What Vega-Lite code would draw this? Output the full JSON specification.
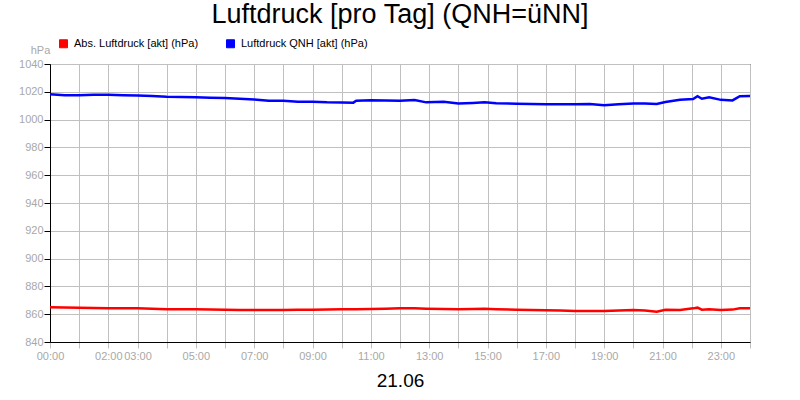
{
  "$schema": "https://vega.github.io/schema/vega-lite/v6.json",
  "width": 700,
  "height": 278,
  "autosize": "none",
  "padding": {"left": 50, "top": 64, "right": 50, "bottom": 58},
  "background": "white",
  "title": {
    "text": "Luftdruck [pro Tag] (QNH=üNN]",
    "fontSize": 27,
    "fontWeight": "normal",
    "color": "black",
    "anchor": "middle",
    "dy": -5
  },
  "data": {
    "values": [
      {"h": 0.0, "abs": 865.0, "qnh": 1018.2},
      {"h": 0.5, "abs": 864.9, "qnh": 1017.6},
      {"h": 1.0, "abs": 864.7, "qnh": 1017.6},
      {"h": 1.5, "abs": 864.5, "qnh": 1017.8},
      {"h": 2.0, "abs": 864.3, "qnh": 1017.8},
      {"h": 2.5, "abs": 864.3, "qnh": 1017.6},
      {"h": 3.0, "abs": 864.2, "qnh": 1017.3},
      {"h": 3.5, "abs": 864.0, "qnh": 1017.0},
      {"h": 4.0, "abs": 863.5, "qnh": 1016.5},
      {"h": 4.5, "abs": 863.5, "qnh": 1016.3},
      {"h": 5.0, "abs": 863.5, "qnh": 1016.0},
      {"h": 5.5, "abs": 863.3, "qnh": 1015.8},
      {"h": 6.0, "abs": 863.2, "qnh": 1015.5},
      {"h": 6.5, "abs": 863.1, "qnh": 1015.0},
      {"h": 7.0, "abs": 863.0, "qnh": 1014.5},
      {"h": 7.5, "abs": 863.0, "qnh": 1013.6},
      {"h": 8.0, "abs": 863.1, "qnh": 1013.5},
      {"h": 8.5, "abs": 863.2, "qnh": 1012.8},
      {"h": 9.0, "abs": 863.2, "qnh": 1012.9},
      {"h": 9.5, "abs": 863.3, "qnh": 1012.4},
      {"h": 10.0, "abs": 863.5, "qnh": 1012.3},
      {"h": 10.4, "abs": 863.6, "qnh": 1012.2},
      {"h": 10.5, "abs": 863.6, "qnh": 1013.6},
      {"h": 11.0, "abs": 863.8, "qnh": 1013.9},
      {"h": 11.5, "abs": 864.0, "qnh": 1013.8},
      {"h": 12.0, "abs": 864.2, "qnh": 1013.6},
      {"h": 12.5, "abs": 864.2, "qnh": 1014.1},
      {"h": 12.9, "abs": 864.0, "qnh": 1012.4},
      {"h": 13.5, "abs": 863.8, "qnh": 1012.9},
      {"h": 14.0, "abs": 863.5, "qnh": 1011.6},
      {"h": 14.5, "abs": 863.7, "qnh": 1012.0},
      {"h": 14.9, "abs": 864.0, "qnh": 1012.4},
      {"h": 15.3, "abs": 863.6, "qnh": 1011.8},
      {"h": 16.0, "abs": 863.2, "qnh": 1011.4},
      {"h": 16.5, "abs": 863.0, "qnh": 1011.2},
      {"h": 17.0, "abs": 862.8, "qnh": 1011.0},
      {"h": 17.5, "abs": 862.6, "qnh": 1011.0},
      {"h": 18.0, "abs": 862.3, "qnh": 1011.1},
      {"h": 18.5, "abs": 862.3, "qnh": 1011.2},
      {"h": 19.0, "abs": 862.3, "qnh": 1010.3},
      {"h": 19.5, "abs": 862.6, "qnh": 1011.0},
      {"h": 20.0, "abs": 863.0, "qnh": 1011.6},
      {"h": 20.4, "abs": 862.6, "qnh": 1011.5},
      {"h": 20.8, "abs": 861.8, "qnh": 1011.2},
      {"h": 21.1, "abs": 863.2, "qnh": 1012.6},
      {"h": 21.6, "abs": 863.0, "qnh": 1014.3},
      {"h": 22.05, "abs": 864.2, "qnh": 1014.8},
      {"h": 22.2, "abs": 864.7, "qnh": 1016.8},
      {"h": 22.35, "abs": 863.2, "qnh": 1015.0},
      {"h": 22.6, "abs": 863.5, "qnh": 1016.0},
      {"h": 23.0, "abs": 863.0, "qnh": 1014.2},
      {"h": 23.4, "abs": 863.3, "qnh": 1013.8},
      {"h": 23.65, "abs": 864.2, "qnh": 1016.8},
      {"h": 24.0, "abs": 864.2, "qnh": 1017.0}
    ]
  },
  "transform": [{"fold": ["abs", "qnh"], "as": ["reihe", "hpa"]}],
  "mark": {"type": "line", "strokeWidth": 2.5},
  "encoding": {
    "x": {
      "field": "h",
      "type": "quantitative",
      "scale": {"domain": [0, 24], "nice": false},
      "axis": {
        "values": [0,1,2,3,4,5,6,7,8,9,10,11,12,13,14,15,16,17,18,19,20,21,22,23,24],
        "labelExpr": "indexof([0,2,3,5,7,9,11,13,15,17,19,21,23], datum.value) >= 0 ? (datum.value < 10 ? '0' : '') + datum.value + ':00' : ''",
        "labelOverlap": false,
        "labelFlush": false,
        "labelBound": false,
        "grid": true,
        "gridColor": "#c0c0c0",
        "tickColor": "#c0c0c0",
        "tickSize": 6,
        "domainColor": "black",
        "labelColor": "#a8a8a8",
        "labelFontSize": 11,
        "labelPadding": 2,
        "title": "21.06",
        "titleFontSize": 19,
        "titleFontWeight": "normal",
        "titleColor": "black",
        "titlePadding": 10
      }
    },
    "y": {
      "field": "hpa",
      "type": "quantitative",
      "scale": {"domain": [840, 1040], "nice": false, "zero": false},
      "axis": {
        "values": [840, 860, 880, 900, 920, 940, 960, 980, 1000, 1020, 1040],
        "format": "d",
        "grid": true,
        "gridColor": "#c0c0c0",
        "tickColor": "black",
        "tickSize": 6,
        "domainColor": "black",
        "labelColor": "#a8a8a8",
        "labelFontSize": 11,
        "labelPadding": 1,
        "title": "hPa",
        "titleAngle": 0,
        "titleX": -10,
        "titleY": -11,
        "titleAlign": "center",
        "titleBaseline": "alphabetic",
        "titleFontSize": 11,
        "titleFontWeight": "normal",
        "titleColor": "#a8a8a8"
      }
    },
    "color": {
      "field": "reihe",
      "type": "nominal",
      "scale": {"domain": ["abs", "qnh"], "range": ["#ff0000", "#0000ff"]},
      "legend": {
        "orient": "none",
        "legendX": 8,
        "legendY": -26,
        "direction": "horizontal",
        "title": null,
        "symbolType": "square",
        "symbolSize": 64,
        "symbolStrokeWidth": 1,
        "labelFontSize": 11,
        "labelColor": "black",
        "labelOffset": 5,
        "columnPadding": 25,
        "labelExpr": "datum.value == 'abs' ? 'Abs. Luftdruck [akt] (hPa)' : 'Luftdruck QNH [akt] (hPa)'",
        "encode": {
          "symbols": {
            "update": {
              "fill": {"scale": "color", "field": "value"},
              "stroke": {"value": "black"},
              "fillOpacity": {"value": 1}
            }
          }
        }
      }
    }
  },
  "config": {
    "font": "Liberation Sans",
    "view": {"stroke": "black", "strokeWidth": 1}
  }
}
